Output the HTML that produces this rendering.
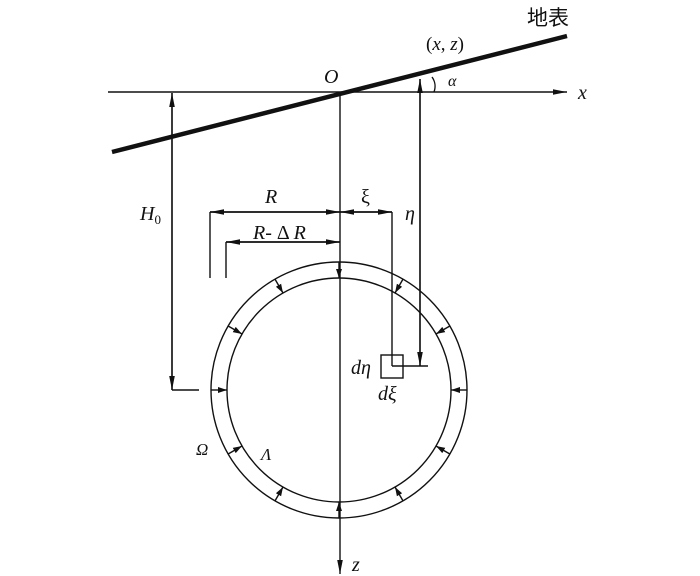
<!DOCTYPE html>
<html><head><meta charset="utf-8"><style>
html,body{margin:0;padding:0;background:#fff;}
svg{display:block}
text{font-family:"Liberation Serif","Noto Serif CJK SC",serif;fill:#111}
</style></head><body>
<svg width="700" height="576" viewBox="0 0 700 576" xmlns="http://www.w3.org/2000/svg">
<defs>
<marker id="a" markerWidth="14" markerHeight="8" refX="14" refY="4" orient="auto" markerUnits="userSpaceOnUse">
<path d="M0,1.2 L14,4 L0,6.8 z" fill="#111"/></marker>
<marker id="s" markerWidth="9" markerHeight="7" refX="9" refY="3.5" orient="auto" markerUnits="userSpaceOnUse">
<path d="M0,0.5 L9,3.5 L0,6.5 z" fill="#111"/></marker>
</defs>
<g stroke="#111" fill="none" stroke-width="1.4">
<line x1="112" y1="152" x2="567" y2="36" stroke-width="4.5"/>
<line x1="108" y1="92" x2="567" y2="92" marker-end="url(#a)"/>
<line x1="340" y1="92" x2="340" y2="574" marker-end="url(#a)"/>
<circle cx="339" cy="390" r="128"/>
<circle cx="339" cy="390" r="112"/>
<line x1="172" y1="390" x2="172" y2="93" marker-end="url(#a)"/>
<line x1="172" y1="93" x2="172" y2="390" marker-end="url(#a)"/>
<line x1="172" y1="390" x2="199" y2="390"/>
<line x1="210" y1="212" x2="340" y2="212" marker-end="url(#a)"/>
<line x1="340" y1="212" x2="210" y2="212" marker-end="url(#a)"/>
<line x1="210" y1="212" x2="210" y2="278"/>
<line x1="226" y1="242" x2="340" y2="242" marker-end="url(#a)"/>
<line x1="340" y1="242" x2="226" y2="242" marker-end="url(#a)"/>
<line x1="226" y1="242" x2="226" y2="278"/>
<line x1="340" y1="212" x2="392" y2="212" marker-end="url(#a)"/>
<line x1="392" y1="212" x2="340" y2="212" marker-end="url(#a)"/>
<line x1="392" y1="212" x2="392" y2="366"/>
<line x1="392" y1="366" x2="428" y2="366"/>
<rect x="381" y="355" width="22" height="23"/>
<line x1="420" y1="366" x2="420" y2="79" marker-end="url(#a)"/>
<line x1="420" y1="79" x2="420" y2="366" marker-end="url(#a)"/>
<path d="M432,77 A16,16 0 0 1 434,92"/>
<g id="ar">
<line x1="339" y1="262" x2="339" y2="278" marker-end="url(#s)"/>
</g>
<use href="#ar" transform="rotate(30 339 390)"/>
<use href="#ar" transform="rotate(60 339 390)"/>
<use href="#ar" transform="rotate(90 339 390)"/>
<use href="#ar" transform="rotate(120 339 390)"/>
<use href="#ar" transform="rotate(150 339 390)"/>
<use href="#ar" transform="rotate(180 339 390)"/>
<use href="#ar" transform="rotate(210 339 390)"/>
<use href="#ar" transform="rotate(240 339 390)"/>
<use href="#ar" transform="rotate(270 339 390)"/>
<use href="#ar" transform="rotate(300 339 390)"/>
<use href="#ar" transform="rotate(330 339 390)"/>
</g>
<g font-style="italic" font-size="20">
<text x="324" y="83">O</text>
<text x="578" y="99">x</text>
<text x="448" y="86" font-size="16">α</text>
<text x="426" y="50" font-style="normal" font-size="19">(<tspan font-style="italic">x</tspan>, <tspan font-style="italic">z</tspan>)</text>
<text x="140" y="220">H<tspan font-size="13" font-style="normal" dy="4">0</tspan></text>
<text x="265" y="203">R</text>
<text x="361" y="203" font-style="normal">ξ</text>
<text x="405" y="220">η</text>
<text x="253" y="239">R<tspan font-style="normal">- Δ </tspan>R</text>
<text x="351" y="374">dη</text>
<text x="378" y="400">dξ</text>
<text x="196" y="455" font-size="17">Ω</text>
<text x="261" y="460" font-size="17">Λ</text>
<text x="352" y="571">z</text>
</g>
<text x="527" y="25" font-size="21" style="font-family:'Noto Sans CJK SC',sans-serif">地表</text>
</svg>
</body></html>
